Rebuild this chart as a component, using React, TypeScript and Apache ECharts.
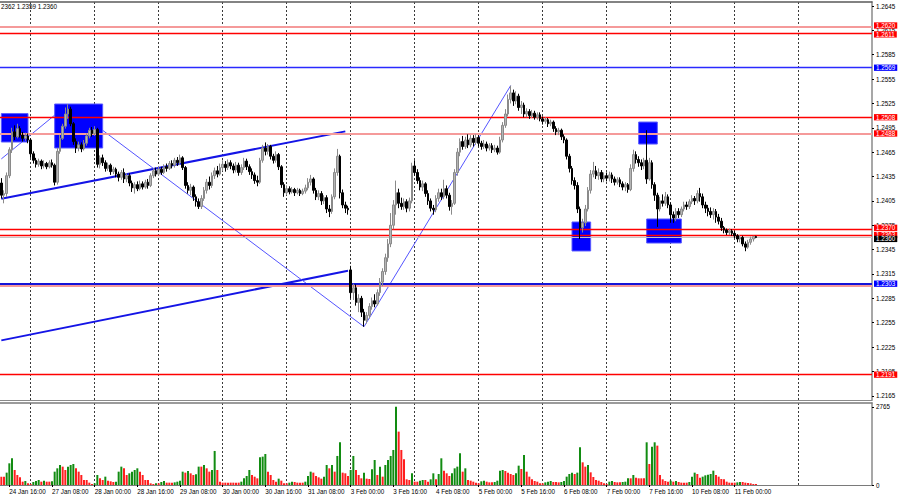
import React, { useEffect, useRef } from "react";
import * as echarts from "echarts";

// ---- candle data: [open, close, low, high] in pips above 1.2000 (H1 bars) ----
const jan24 = [
  [427,412,408,433],[412,414,402,418],[414,436,410,440],[436,468,433,471],[468,490,464,495],
  [490,484,480,498],[484,494,482,500],[494,486,483,497],[486,482,478,490],[482,485,479,489],[485,480,476,488],
];
const jan27 = [
  [480,463,458,482],[463,455,451,466],[455,450,446,458],[450,454,447,457],[454,448,444,456],[448,451,445,455],
  [451,447,444,453],[447,452,445,455],[452,449,446,456],[449,428,424,451],[428,466,425,470],[466,482,463,486],
  [482,497,480,500],[497,512,494,520],[512,518,506,524],[518,500,497,521],[500,478,474,502],[478,470,464,482],
  [470,474,466,478],[474,469,465,477],[469,476,467,480],[476,485,473,488],[485,492,482,495],[492,488,484,496],
];
const jan28 = [
  [488,493,485,497],[493,450,446,495],[450,458,445,461],[458,452,448,462],[452,445,441,455],[445,449,442,452],
  [449,441,437,451],[441,444,438,447],[444,438,434,446],[438,434,429,441],[434,440,431,443],[440,432,427,445],
  [432,436,428,439],[436,427,423,439],[427,421,416,430],[421,425,414,428],[425,420,417,429],[420,426,418,430],
  [426,422,419,429],[422,428,420,431],[428,424,420,432],[424,436,422,439],[436,442,433,445],[442,438,435,446],
];
const jan29 = [
  [438,444,436,448],[444,440,437,447],[440,447,438,450],[447,445,441,451],[445,451,443,454],[451,449,445,455],
  [449,455,446,458],[455,452,448,459],[452,458,449,462],[458,446,443,460],[446,424,420,448],[424,418,414,428],
  [418,422,412,426],[422,410,405,424],[410,404,398,413],[404,398,395,408],[398,408,395,412],[408,418,405,422],
  [418,428,414,432],[428,424,419,435],[424,436,421,440],[436,442,432,446],[442,438,434,448],[438,446,436,451],
];
const jan30 = [
  [446,450,442,455],[450,446,441,454],[446,452,443,456],[452,448,444,455],[448,443,439,451],[443,449,440,453],
  [449,440,436,452],[440,446,437,450],[446,454,443,458],[454,447,443,457],[447,441,437,450],[441,437,432,445],
  [437,430,426,440],[430,428,423,436],[428,455,426,458],[455,470,452,474],[470,466,461,477],[466,472,462,475],
  [472,460,456,474],[460,455,451,463],[455,462,452,466],[462,447,443,464],[447,425,421,449],[425,415,410,428],
];
const jan31 = [
  [415,420,412,424],[420,416,413,423],[416,419,414,422],[419,415,411,421],[415,418,413,421],[418,414,411,420],
  [414,417,412,420],[417,421,414,425],[421,428,418,433],[428,432,424,437],[432,418,414,434],[418,410,406,421],
  [410,414,406,418],[414,405,400,417],[405,409,401,412],[409,395,390,412],[395,392,385,400],[392,410,389,413],
  [410,440,407,445],[440,460,436,469],[460,415,408,462],[415,400,396,419],[400,396,390,404],[396,394,388,399],
];
const feb3 = [
  [320,292,285,325],[292,298,283,303],[298,280,276,302],[280,285,268,290],[285,268,262,288],[268,258,250,272],
  [258,264,254,268],[264,275,260,279],[275,282,271,286],[282,278,274,290],[278,292,276,296],[292,305,288,310],
  [305,318,300,322],[318,335,314,340],[335,352,330,358],[352,375,348,390],[375,400,370,406],[400,415,388,430],
  [415,402,396,420],[402,398,394,409],[398,404,394,408],[404,396,391,407],[396,405,392,409],[405,448,402,452],
];
const feb4 = [
  [448,440,436,455],[440,430,426,444],[430,422,418,434],[422,426,417,430],[426,414,410,428],[414,405,400,418],
  [405,396,392,408],[396,394,388,400],[394,408,391,412],[408,415,404,420],[415,410,406,420],[410,420,407,431],
  [420,412,408,424],[412,398,393,415],[398,402,388,406],[402,440,400,444],[440,465,436,470],[465,478,460,482],
  [478,472,468,485],[472,480,469,484],[480,474,470,487],[474,482,471,486],[482,477,472,486],[477,483,474,487],
];
const feb5 = [
  [483,476,472,486],[476,472,468,479],[472,475,469,480],[475,470,466,478],[470,473,467,476],[473,468,464,476],
  [468,470,465,474],[470,465,462,473],[465,480,463,484],[480,498,477,502],[498,512,495,518],[512,530,509,536],
  [530,538,525,547],[538,528,522,542],[528,534,524,540],[534,520,516,537],[520,523,512,528],[523,512,508,526],
  [512,515,508,519],[515,510,506,518],[510,513,507,517],[513,508,505,516],[508,511,505,514],[511,506,503,514],
];
const feb6 = [
  [506,503,499,509],[503,505,500,508],[505,500,496,507],[500,502,497,505],[502,494,490,504],[494,490,486,497],
  [490,492,486,495],[492,484,480,494],[484,480,476,487],[480,460,456,482],[460,445,440,463],[445,430,425,448],
  [430,424,419,434],[424,395,390,428],[395,372,358,398],[372,378,366,383],[378,395,374,400],[395,418,392,422],
  [418,438,414,443],[438,442,434,453],[442,436,432,448],[436,440,431,445],[440,432,428,443],[432,436,428,440],
];
const feb7 = [
  [436,433,429,440],[433,437,429,441],[437,432,427,440],[432,428,424,435],[428,431,425,434],[431,426,422,434],
  [426,422,418,429],[422,425,417,428],[425,419,415,427],[419,445,417,450],[445,462,441,468],[462,456,451,466],
  [456,452,447,460],[452,448,443,456],[448,455,444,458],[455,432,426,492],[432,452,430,458],[452,425,420,455],
  [425,412,405,428],[412,395,373,415],[395,405,392,410],[405,402,398,413],[402,410,399,416],[410,400,396,413],
];
const feb10 = [
  [400,388,378,403],[388,384,378,392],[384,392,380,396],[392,388,384,396],[388,395,385,398],[395,400,392,404],
  [400,398,394,404],[398,404,395,407],[404,408,401,412],[408,405,400,411],[405,414,402,418],[414,410,404,421],
  [410,400,396,414],[400,396,390,404],[396,392,386,400],[392,388,384,397],[388,392,382,396],[392,385,378,395],
  [385,380,376,389],[380,372,368,384],[372,369,365,374],[369,366,363,371],[366,368,363,371],[368,365,362,370],
];
const feb11 = [
  [365,362,359,368],[362,358,354,364],[358,360,354,363],[360,352,349,362],[352,348,343,355],
  [348,354,346,357],[354,358,351,361],[358,361,355,362],[361,360,359,362],
];

// ---- tick volumes per bar ----
const volJan24 = [295,295,437,767,944,531,354,271,118,142,59];
const volJan27 = [35,106,142,177,118,153,118,118,130,472,590,708,649,531,649,708,743,590,472,354,177,177,83,35];
const volJan28 = [59,354,236,177,295,153,130,106,118,472,649,590,354,413,472,531,590,472,354,177,177,59,35,59];
const volJan29 = [59,106,142,83,83,83,94,118,153,472,437,496,413,354,378,649,649,708,590,472,531,1204,531,118];
const volJan30 = [83,83,83,83,83,83,83,118,236,319,531,354,295,236,979,1003,1097,472,354,177,118,224,153,59];
const volJan31 = [59,83,118,106,83,83,83,118,319,472,437,319,271,224,295,708,590,708,472,1027,1510,437,413,319];
const volFeb3 = [531,1027,531,354,236,437,224,212,555,885,354,649,295,708,885,1027,1239,2765,1888,1239,909,201,177,413];
const volFeb4 = [118,118,153,177,177,118,201,413,201,389,944,507,413,319,413,590,649,1121,472,590,177,153,118,83];
const volFeb5 = [59,130,153,118,94,94,106,153,507,531,496,437,389,354,413,684,566,1062,472,295,201,142,118,59];
const volFeb6 = [59,94,118,142,106,106,94,106,142,295,389,437,389,437,1333,802,649,708,448,283,177,153,106,59];
const volFeb7 = [35,118,142,106,94,94,106,118,236,236,354,260,236,236,236,1510,743,1357,1510,1392,354,201,142,118];
const volFeb10 = [153,118,142,106,83,83,83,106,295,437,389,260,295,342,366,389,507,354,295,212,201,118,83,83];
const volFeb11 = [83,94,106,106,83,71,59,35,35];

// ---- axes ----
const dayNames = ["24 Jan","27 Jan","28 Jan","29 Jan","30 Jan","31 Jan","3 Feb","4 Feb","5 Feb","6 Feb","7 Feb","10 Feb","11 Feb","12 Feb","13 Feb"];
const firstHour = 13;
const slotCount = 327;
const timeLabels = ["24 Jan 16:00","27 Jan 08:00","28 Jan 00:00","28 Jan 16:00","29 Jan 08:00","30 Jan 00:00","30 Jan 16:00","31 Jan 08:00","3 Feb 00:00","3 Feb 16:00","4 Feb 08:00","5 Feb 00:00","5 Feb 16:00","6 Feb 08:00","7 Feb 00:00","7 Feb 16:00","10 Feb 08:00","11 Feb 00:00"];
const gridDays = ["27 Jan 00:00","28 Jan 00:00","29 Jan 00:00","30 Jan 00:00","31 Jan 00:00","3 Feb 00:00","4 Feb 00:00","5 Feb 00:00","6 Feb 00:00","7 Feb 00:00","10 Feb 00:00","11 Feb 00:00","12 Feb 00:00"];
const priceTicks = [1.2165,1.2195,1.2225,1.2255,1.2285,1.2315,1.2345,1.2375,1.2405,1.2435,1.2465,1.2495,1.2525,1.2555,1.2585,1.2615,1.2645];
const volumeTicks = [0, 2765];
const priceMin = 1.215978;
const priceMax = 1.264993;
const volumeMax = 2900;

// ---- drawn objects ----
const redLevels = [1.2611, 1.2508, 1.2370, 1.2363, 1.2191];
const pinkLevels = [1.2620, 1.2488];
const pinkUnderlines = [1.2301];
const blueThinLevels = [1.2569];
const blueThickLevels = [1.2303];
const fiboLabels: [string, number][] = [["200.0", 1.2569], ["261.8", 1.2303]];
const currentPrice = 1.2360;
const upperTrend: [string, number][] = [["24 Jan 13:00", 1.24077], ["31 Jan 22:00", 1.24906]];
const lowerTrend: [string, number][] = [["24 Jan 13:00", 1.22332], ["31 Jan 23:00", 1.2319]];
const zigzag: [string, number][] = [["24 Jan 13:00", 1.24567], ["27 Jan 14:00", 1.2524], ["3 Feb 05:00", 1.225], ["5 Feb 12:00", 1.2547]];
const zoneBoxes: [string, string, number, number][] = [
  ["24 Jan 13:00", "24 Jan 23:00", 1.25125, 1.24775],
  ["27 Jan 09:00", "28 Jan 03:00", 1.25243, 1.24701],
  ["6 Feb 11:00", "6 Feb 18:00", 1.2379, 1.23433],
  ["7 Feb 12:00", "7 Feb 19:00", 1.25021, 1.2475],
  ["7 Feb 15:00", "10 Feb 04:00", 1.23827, 1.23531],
];
const headerText = "2362 1.2359 1.2360";

// ---- derived structures ----
const pad = (h: number) => (h < 10 ? "0" + h : "" + h);
const categories: string[] = [];
dayNames.forEach((d, di) => {
  for (let h = di === 0 ? firstHour : 0; h < 24; h++) {
    if (categories.length < slotCount) categories.push(`${d} ${pad(h)}:00`);
  }
});
const toPrice = (p: number) => +(1.2 + p / 10000).toFixed(5);
const candles = [jan24, jan27, jan28, jan29, jan30, jan31, feb3, feb4, feb5, feb6, feb7, feb10, feb11]
  .flat()
  .map((b) => b.map(toPrice));
const volumes = [volJan24, volJan27, volJan28, volJan29, volJan30, volJan31, volFeb3, volFeb4, volFeb5, volFeb6, volFeb7, volFeb10, volFeb11].flat();

const FONT = "'Liberation Sans', Arial, sans-serif";
const FS = 6.3;
const labelSet = new Set(timeLabels);
const labelInterval = (_i: number, v: string) => labelSet.has(v);

const labelNudge = (v: number) => (v === 1.2370 ? -1.5 : v === 1.2611 ? 0.8 : v === 1.2620 ? -0.8 : v === 1.2360 ? 1.5 : 0);

const boxLabel = (bg: string) => ({
  show: true,
  position: "end",
  distance: 2,
  backgroundColor: bg,
  color: "#ffffff",
  fontSize: FS,
  fontFamily: FONT,
  lineHeight: 6.3,
  padding: [0, 2, 0, 2],
});

const levelData = (vals: number[], withLabel = true) =>
  vals.map((v) => ({
    yAxis: v,
    label: withLabel ? { show: true, formatter: v.toFixed(4), offset: [0, labelNudge(v)] } : { show: false },
  }));

const gridLineItems = gridDays.map((d) => ({ xAxis: d }));
const dashStyle = { color: "#3a3a3a", type: [2, 2], width: 1 };

const segment = (pts: [string, number][]) => {
  const out: any[] = [];
  for (let i = 0; i < pts.length - 1; i++) out.push([{ coord: pts[i] }, { coord: pts[i + 1] }]);
  return out;
};

const boxItems = zoneBoxes.map(([a, b, top, bottom]) => [
  { xAxis: a, yAxis: top },
  { xAxis: b, yAxis: bottom },
]);

// a marker-only series on the price grid
const markerSeries = (name: string, z: number, lineStyle: any, label: any, data: any[]) => ({
  type: "line",
  name,
  xAxisIndex: 0,
  yAxisIndex: 0,
  data: [],
  silent: true,
  markLine: {
    z,
    silent: true,
    precision: 6,
    symbol: ["none", "none"],
    animation: false,
    emphasis: { disabled: true },
    lineStyle,
    label,
    data,
  },
});

const plainAxis = (gridIndex: number, position: string, color: string, width = 1) => ({
  type: "category",
  gridIndex,
  position,
  data: categories,
  axisLine: { show: true, onZero: false, lineStyle: { color, width } },
  axisTick: { show: false },
  axisLabel: { show: false },
  splitLine: { show: false },
});

const option: any = {
  animation: false,
  backgroundColor: "#ffffff",
  textStyle: { fontFamily: FONT, fontSize: FS, color: "#000" },
  grid: [
    { left: 0, right: 28, top: 2, height: 398 },
    { left: 0, right: 28, top: 403, height: 82 },
  ],
  xAxis: [
    plainAxis(0, "bottom", "#8a8a8a"),
    plainAxis(0, "top", "#5a5a5a", 1.5),
    {
      type: "category",
      gridIndex: 1,
      position: "bottom",
      data: categories,
      axisLine: { show: true, onZero: false, lineStyle: { color: "#7a7a7a", width: 1 } },
      axisTick: { show: true, alignWithLabel: true, interval: labelInterval, length: 2, lineStyle: { color: "#000" } },
      axisLabel: { show: true, interval: labelInterval, align: "left", fontSize: FS, fontFamily: FONT, color: "#000", margin: 3 },
      splitLine: { show: false },
    },
    plainAxis(1, "top", "#7a7a7a", 1.5),
  ],
  yAxis: [
    {
      type: "value",
      gridIndex: 0,
      position: "right",
      min: priceMin,
      max: priceMax,
      splitLine: { show: false },
      axisLine: { show: true, lineStyle: { color: "#8a8a8a", width: 1.5 } },
      axisTick: { show: true, length: 2, customValues: priceTicks, lineStyle: { color: "#000" } },
      axisLabel: { show: true, customValues: priceTicks, formatter: (v: number) => v.toFixed(4), margin: 4, fontSize: FS, fontFamily: FONT, color: "#000" },
    },
    {
      type: "value",
      gridIndex: 1,
      position: "right",
      min: 0,
      max: volumeMax,
      splitLine: { show: false },
      axisLine: { show: true, lineStyle: { color: "#8a8a8a", width: 1.5 } },
      axisTick: { show: true, length: 2, customValues: volumeTicks, lineStyle: { color: "#000" } },
      axisLabel: { show: true, customValues: volumeTicks, formatter: (v: number) => String(v), margin: 4, fontSize: FS, fontFamily: FONT, color: "#000" },
    },
  ],
  graphic: [
    { type: "text", left: 1, top: 3, style: { text: headerText, fontSize: FS, fontFamily: FONT, fill: "#000" } },
  ],
  series: [
    markerSeries("day grid", 0, dashStyle, { show: false }, gridLineItems),
    markerSeries("channel", 0.2, { color: "#1414e6", width: 2, type: "solid" }, { show: false }, [...segment(upperTrend), ...segment(lowerTrend)]),
    markerSeries("zigzag", 0.2, { color: "#5454ff", width: 1, type: "solid" }, { show: false }, segment(zigzag)),
    markerSeries("pink levels", 1.6, { color: "#f59a9a", width: 2, type: "solid" }, boxLabel("#ff0000"), [...levelData(pinkLevels), ...levelData(pinkUnderlines, false)]),
    markerSeries("blue thick", 1.7, { color: "#1414d8", width: 2, type: "solid" }, boxLabel("#0000ff"), levelData(blueThickLevels)),
    markerSeries("blue thin", 1.7, { color: "#2a2aff", width: 1.4, type: "solid" }, boxLabel("#0000ff"), levelData(blueThinLevels)),
    markerSeries("red levels", 1.8, { color: "#ff0000", width: 1.4, type: "solid" }, boxLabel("#ff0000"), levelData(redLevels)),
    markerSeries(
      "fibo",
      1.8,
      { opacity: 0 },
      { show: true, position: "insideEndTop", distance: 1, color: "#4646ff", fontSize: FS, fontFamily: FONT },
      fiboLabels.map(([t, v]) => ({ yAxis: v, label: { formatter: t } }))
    ),
    markerSeries("current", 1.9, { color: "#c4c4c4", width: 1.2, type: "solid" }, boxLabel("#000000"), levelData([currentPrice])),
    {
      type: "candlestick",
      name: "GBPUSD",
      xAxisIndex: 0,
      yAxisIndex: 0,
      z: 3,
      data: candles,
      barWidth: 2,
      silent: true,
      itemStyle: {
        color: "#b4b4b4",
        color0: "#000000",
        borderColor: "#8a8a8a",
        borderColor0: "#000000",
        borderWidth: 1,
      },
      markArea: {
        z: 1,
        silent: true,
        itemStyle: { color: "#0000ff", borderColor: "#5a5aff", borderWidth: 1 },
        label: { show: false },
        emphasis: { disabled: true },
        data: boxItems,
      },
    },
    {
      type: "bar",
      name: "Volumes",
      xAxisIndex: 2,
      yAxisIndex: 1,
      data: volumes,
      barWidth: 2,
      silent: true,
      itemStyle: {
        color: (p: any) => (p.dataIndex > 0 && volumes[p.dataIndex] > volumes[p.dataIndex - 1] ? "#128c12" : "#ff1e1e"),
      },
      markLine: {
        z: 0,
        silent: true,
        symbol: ["none", "none"],
        animation: false,
        label: { show: false },
        emphasis: { disabled: true },
        lineStyle: dashStyle,
        data: gridLineItems,
      },
    },
  ],
};

export default function App() {
  const ref = useRef<HTMLDivElement>(null);
  useEffect(() => {
    document.body.style.margin = "0";
    const chart = echarts.init(ref.current as HTMLDivElement, null, { renderer: "svg" });
    chart.setOption(option);
    return () => chart.dispose();
  }, []);
  return <div ref={ref} style={{ width: 900, height: 500, background: "#ffffff" }} />;
}
